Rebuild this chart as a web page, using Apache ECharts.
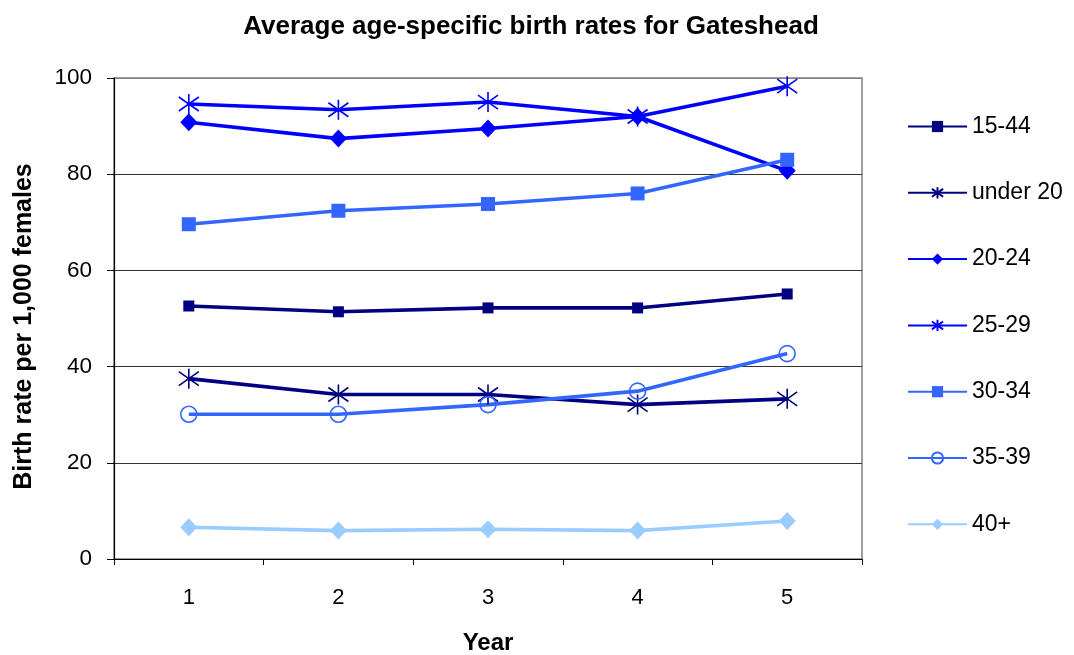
<!DOCTYPE html>
<html>
<head>
<meta charset="utf-8">
<script src="https://cdn.jsdelivr.net/npm/echarts@6/dist/echarts.min.js"></script>
<style>
html,body{margin:0;padding:0;background:#fff;}
#chart{width:1074px;height:655px;}
</style>
</head>
<body>
<div id="chart"></div>
<script>
const years = ['1', '2', '3', '4', '5'];
const yTicks = [0, 20, 40, 60, 80, 100];
const seriesNames = ['15-44', 'under 20', '20-24', '25-29', '30-34', '35-39', '40+'];
const r15_44 = [52.6, 51.4, 52.2, 52.2, 55.1];
const rUnder20 = [37.5, 34.2, 34.2, 32.1, 33.3];
const r20_24 = [90.8, 87.4, 89.5, 92.0, 80.7];
const r25_29 = [94.6, 93.4, 95.0, 92.0, 98.3];
const r30_34 = [69.6, 72.4, 73.8, 76.0, 83.0];
const r35_39 = [30.1, 30.1, 32.1, 34.9, 42.7];
const r40plus = [6.6, 5.9, 6.2, 5.9, 7.9];

const FONT = '"Liberation Sans", Arial, sans-serif';
const ASTER = 'path://M10,0 L10,20 M0,3 L20,17 M0,17 L20,3';

function mk(name, data, color, symbol, size, extra) {
  const s = {
    name: name,
    type: 'line',
    data: data,
    symbol: symbol,
    symbolSize: size,
    showAllSymbol: true,
    lineStyle: { color: color, width: 3.6 },
    itemStyle: { color: color, borderWidth: 0 },
    emphasis: { disabled: true },
    z: 3
  };
  if (extra) Object.assign(s.itemStyle, extra);
  return s;
}

const chart = echarts.init(document.getElementById('chart'), null, { renderer: 'canvas' });
chart.setOption({
  animation: false,
  backgroundColor: '#ffffff',
  textStyle: { fontFamily: FONT },
  title: {
    text: 'Average age-specific birth rates for Gateshead',
    left: 526,
    textAlign: 'center',
    top: 9,
    textStyle: { fontFamily: FONT, fontSize: 26, fontWeight: 'bold', color: '#000' }
  },
  legend: {
    orient: 'vertical',
    left: 902,
    top: 110,
    itemWidth: 59,
    itemHeight: 14,
    itemGap: 43.3,
    data: seriesNames,
    textStyle: { fontFamily: FONT, fontSize: 23, color: '#000' },
    selectedMode: false
  },
  grid: {
    left: 114, right: 212, top: 78, bottom: 96,
    outerBoundsMode: 'none',
    containLabel: false,
    show: true, borderColor: '#808080', borderWidth: 1.5, backgroundColor: 'transparent'
  },
  xAxis: {
    type: 'category',
    data: years,
    boundaryGap: true,
    name: 'Year',
    nameLocation: 'middle',
    nameGap: 72,
    nameTextStyle: { fontFamily: FONT, fontSize: 24, fontWeight: 'bold', color: '#000' },
    axisLine: { show: true, lineStyle: { color: '#000', width: 1.2 } },
    axisTick: { show: true, length: 6, lineStyle: { color: '#000' } },
    axisLabel: { fontFamily: FONT, fontSize: 22, color: '#000', margin: 28 },
    splitLine: { show: false }
  },
  yAxis: {
    type: 'value',
    min: 0, max: 100, interval: 20,
    name: 'Birth rate per 1,000 females',
    nameLocation: 'middle',
    nameGap: 77,
    nameTextStyle: { fontFamily: FONT, fontSize: 25, fontWeight: 'bold', color: '#000', padding: [0, 16, 0, 0] },
    axisLine: { show: true, lineStyle: { color: '#000', width: 1.2 } },
    axisTick: { show: true, length: 7, lineStyle: { color: '#000' } },
    axisLabel: {
      fontFamily: FONT, fontSize: 22.5, color: '#000', margin: 22,
      formatter: function (v) { return yTicks.indexOf(v) >= 0 ? String(v) : ''; }
    },
    splitLine: { show: true, lineStyle: { color: ['#333', '#333', '#333', '#333', '#333', '#808080'], width: 1.2 } }
  },
  series: [
    mk('15-44', r15_44, '#000080', 'rect', 11),
    mk('under 20', rUnder20, '#000080', ASTER, 20, { borderColor: '#000080', borderWidth: 1.6 }),
    mk('20-24', r20_24, '#0000ff', 'diamond', [17, 18]),
    mk('25-29', r25_29, '#0000ff', ASTER, 20, { borderColor: '#0000ff', borderWidth: 1.6 }),
    mk('30-34', r30_34, '#3366ff', 'rect', 14),
    mk('35-39', r35_39, '#3366ff', 'circle', 16, { color: 'rgba(255,255,255,0)', borderColor: '#3366ff', borderWidth: 1.6 }),
    mk('40+', r40plus, '#99ccff', 'diamond', [17, 18])
  ]
});
</script>
</body>
</html>
